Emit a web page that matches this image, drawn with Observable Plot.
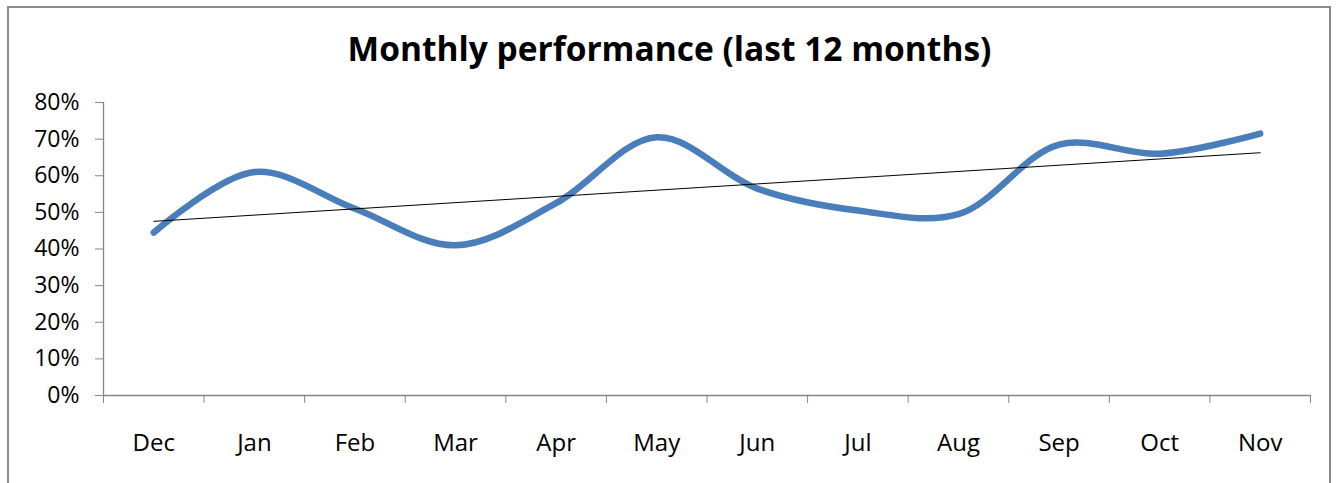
<!DOCTYPE html>
<html>
<head>
<meta charset="utf-8">
<script src="https://cdn.jsdelivr.net/npm/d3@7"></script>
<script src="https://cdn.jsdelivr.net/npm/@observablehq/plot@0.6"></script>
<style>
  html, body { margin: 0; padding: 0; background: #fff; }
  #wrap { position: relative; width: 1339px; height: 483px; overflow: hidden; font-family: "Open Sans", Lato, sans-serif; }
  #frame { position: absolute; left: 7px; top: 6px; width: 1324px; height: 490px; border: 2px solid #8a8a8a; box-sizing: border-box; }
  #title { position: absolute; left: 0; top: 0; width: 1339px; height: 85px; text-align: center; font-weight: bold; font-size: 33.5px; line-height: 96px; color: #000; }
  #chart { position: absolute; left: 0; top: 85px; }
</style>
</head>
<body>
<div id="wrap">
  <div id="frame"></div>
  <div id="title">Monthly performance (last 12 months)</div>
  <div id="chart"></div>
</div>
<script>
const months = ["Dec", "Jan", "Feb", "Mar", "Apr", "May", "Jun", "Jul", "Aug", "Sep", "Oct", "Nov"];
const performance = [0.445, 0.61, 0.51, 0.41, 0.525, 0.705, 0.565, 0.505, 0.495, 0.685, 0.66, 0.715];
const yTicks = [0, 0.1, 0.2, 0.3, 0.4, 0.5, 0.6, 0.7, 0.8];

const data = months.map((m, i) => ({i, month: m, value: performance[i]}));
const boundaries = d3.range(months.length + 1).map(k => k - 0.5);
const axisColor = "#868686";

const chart = Plot.plot({
  width: 1339,
  height: 398,
  marginLeft: 103,
  marginRight: 29,
  marginTop: 17,
  marginBottom: 88,
  style: {fontFamily: "'Open Sans', Lato, sans-serif", fontSize: "23px", color: "#000", background: "transparent"},
  x: {type: "linear", domain: [-0.5, months.length - 0.5]},
  y: {domain: [0, 0.8]},
  marks: [
    Plot.axisY({ticks: yTicks, tickFormat: d3.format(".0%"), tickSize: 8, tickPadding: 16, stroke: axisColor, label: null, fill: "#000", fontSize: 23}),
    Plot.axisX({ticks: boundaries, tickFormat: () => "", tickSize: 8, stroke: axisColor, label: null}),
    Plot.axisX({ticks: d3.range(months.length), tickFormat: i => months[i], tickSize: 0, tickPadding: 38, label: null, fill: "#000", fontSize: 24}),
    Plot.ruleX([-0.5], {y1: 0, y2: 0.8, stroke: axisColor, strokeWidth: 1.3}),
    Plot.ruleY([0], {stroke: axisColor, strokeWidth: 1.3}),
    Plot.line(data, {x: "i", y: "value", curve: "catmull-rom", stroke: "#4A7EBB", strokeWidth: 6.5, strokeLinecap: "round"}),
    Plot.linearRegressionY(data, {x: "i", y: "value", ci: 0, stroke: "#000", strokeWidth: 1})
  ]
});
document.getElementById("chart").appendChild(chart);
</script>
</body>
</html>
